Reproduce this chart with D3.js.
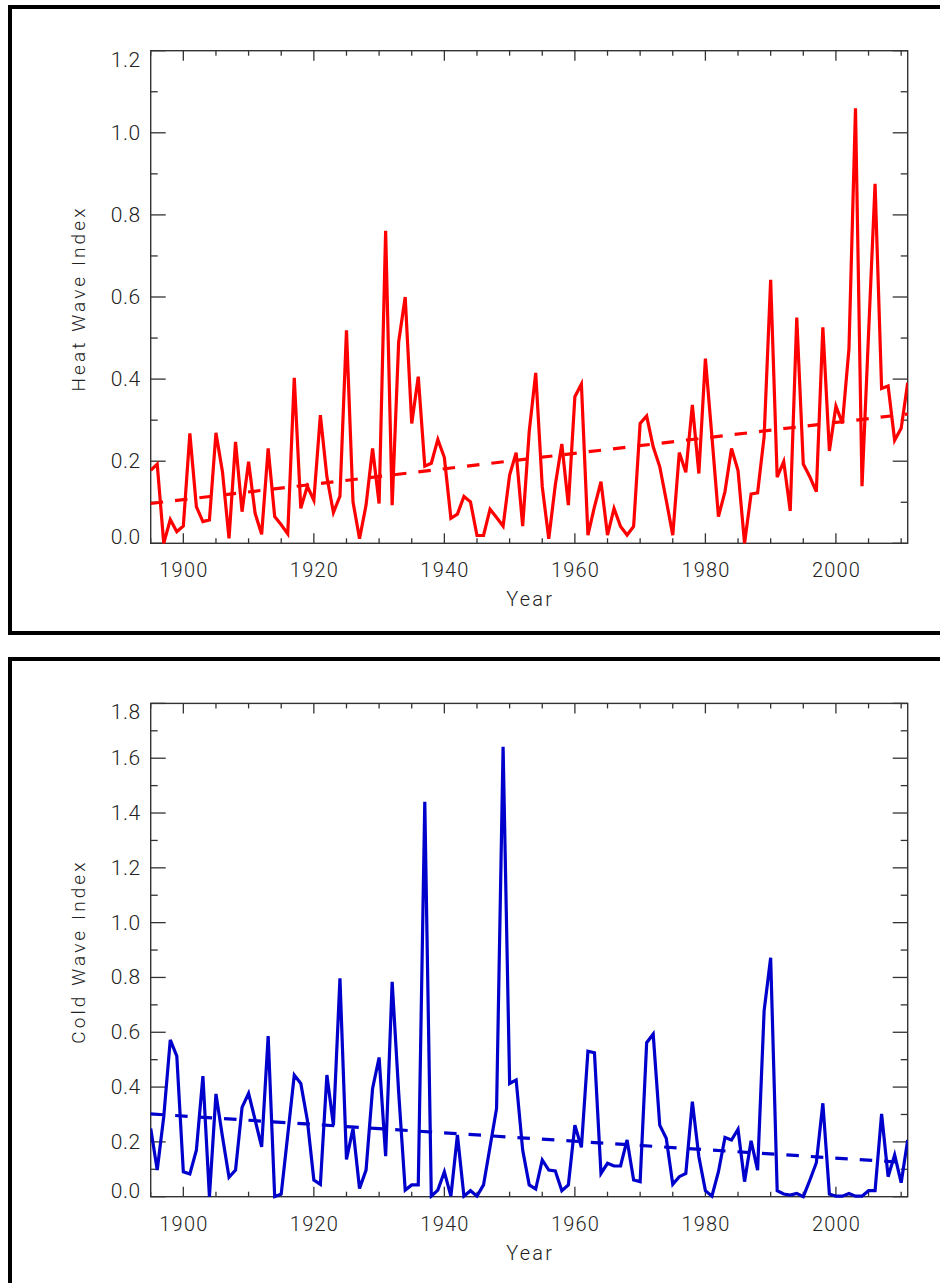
<!DOCTYPE html>
<html>
<head>
<meta charset="utf-8">
<script src="https://cdn.jsdelivr.net/npm/d3@7"></script>
<style>
  html, body { margin: 0; padding: 0; background: #fff; }
  svg { display: block; }
  text { font-family: Roboto, "DejaVu Sans", sans-serif; font-weight: 300; fill: #222; }
</style>
</head>
<body>
<svg id="chart" width="940" height="1283"></svg>
<script>
// Annual series, 1895-2011
const years = d3.range(1895, 2012);

const heatIndex = [
  0.178, 0.193, 0.000, 0.058, 0.028, 0.042, 0.268, 0.089, 0.053, 0.057,
  0.269, 0.174, 0.012, 0.247, 0.077, 0.199, 0.073, 0.022, 0.231, 0.065,
  0.045, 0.023, 0.403, 0.085, 0.139, 0.105, 0.312, 0.162, 0.075, 0.115,
  0.519, 0.101, 0.011, 0.093, 0.231, 0.097, 0.761, 0.093, 0.491, 0.600,
  0.292, 0.406, 0.188, 0.195, 0.253, 0.209, 0.061, 0.071, 0.114, 0.101,
  0.019, 0.019, 0.083, 0.063, 0.042, 0.166, 0.221, 0.042, 0.272, 0.415,
  0.138, 0.011, 0.142, 0.242, 0.093, 0.357, 0.388, 0.020, 0.089, 0.150,
  0.020, 0.085, 0.041, 0.020, 0.041, 0.292, 0.310, 0.235, 0.187, 0.105,
  0.020, 0.221, 0.173, 0.337, 0.170, 0.450, 0.260, 0.065, 0.126, 0.231,
  0.177, 0.000, 0.120, 0.123, 0.260, 0.642, 0.161, 0.199, 0.079, 0.550,
  0.193, 0.162, 0.126, 0.526, 0.225, 0.334, 0.292, 0.474, 1.060, 0.139,
  0.510, 0.876, 0.377, 0.383, 0.251, 0.280, 0.391
];

const coldIndex = [
  0.249, 0.097, 0.292, 0.572, 0.513, 0.091, 0.083, 0.170, 0.440, 0.000,
  0.375, 0.219, 0.071, 0.097, 0.326, 0.377, 0.280, 0.182, 0.586, 0.000,
  0.010, 0.225, 0.444, 0.413, 0.280, 0.061, 0.045, 0.444, 0.261, 0.797,
  0.136, 0.249, 0.030, 0.097, 0.395, 0.508, 0.148, 0.784, 0.380, 0.024,
  0.043, 0.043, 1.441, 0.002, 0.024, 0.091, 0.002, 0.225, 0.002, 0.022,
  0.002, 0.043, 0.182, 0.322, 1.642, 0.413, 0.426, 0.170, 0.043, 0.028,
  0.134, 0.097, 0.094, 0.022, 0.043, 0.261, 0.180, 0.531, 0.525, 0.085,
  0.122, 0.112, 0.112, 0.207, 0.061, 0.055, 0.562, 0.593, 0.261, 0.213,
  0.045, 0.073, 0.085, 0.347, 0.146, 0.022, 0.002, 0.091, 0.216, 0.207,
  0.246, 0.055, 0.204, 0.097, 0.679, 0.872, 0.022, 0.010, 0.006, 0.012,
  0.000, 0.060, 0.124, 0.341, 0.010, 0.002, 0.002, 0.012, 0.002, 0.002,
  0.022, 0.022, 0.302, 0.073, 0.152, 0.051, 0.207
];

// Linear trend end points (value at first and last year)
const trendYears = [1895, 2011];
const heatTrend = [0.097, 0.315];
const coldTrend = [0.302, 0.124];

// Axis ticks
const xMajorTicks = [1900, 1920, 1940, 1960, 1980, 2000];
const heatYTicks = [0.0, 0.2, 0.4, 0.6, 0.8, 1.0, 1.2];
const coldYTicks = [0.0, 0.2, 0.4, 0.6, 0.8, 1.0, 1.2, 1.4, 1.6, 1.8];

const svg = d3.select("#chart");

function drawPanel(cfg) {
  // outer frame
  svg.append("rect")
    .attr("x", cfg.frame.x).attr("y", cfg.frame.y)
    .attr("width", cfg.frame.w).attr("height", cfg.frame.h)
    .attr("fill", "none").attr("stroke", "#000").attr("stroke-width", 4);

  const p = cfg.plot;
  const x = d3.scaleLinear().domain([1895, 2011]).range([p.left, p.right]);
  const y = d3.scaleLinear().domain([0, cfg.yMax]).range([p.bottom, p.top]);

  const g = svg.append("g");
  const axisColor = "#333";

  // minor/major ticks on all four sides
  const xMinor = d3.range(1895, 2012, 5).filter(v => !xMajorTicks.includes(v));
  const yMinor = d3.range(1, Math.round(cfg.yMax * 10), 2).map(v => v / 10);

  function tickLines(vals, len, axis) {
    vals.forEach(v => {
      if (axis === "x") {
        const xx = x(v);
        g.append("line").attr("x1", xx).attr("x2", xx).attr("y1", p.bottom).attr("y2", p.bottom - len)
          .attr("stroke", axisColor).attr("stroke-width", 1.3);
        g.append("line").attr("x1", xx).attr("x2", xx).attr("y1", p.top).attr("y2", p.top + len)
          .attr("stroke", axisColor).attr("stroke-width", 1.3);
      } else {
        const yy = y(v);
        g.append("line").attr("x1", p.left).attr("x2", p.left + len).attr("y1", yy).attr("y2", yy)
          .attr("stroke", axisColor).attr("stroke-width", 1.3);
        g.append("line").attr("x1", p.right).attr("x2", p.right - len).attr("y1", yy).attr("y2", yy)
          .attr("stroke", axisColor).attr("stroke-width", 1.3);
      }
    });
  }
  tickLines(xMajorTicks, 10, "x");
  tickLines(xMinor, 5, "x");
  tickLines(cfg.yTicks, 15, "y");
  tickLines(yMinor, 7, "y");

  g.append("rect")
    .attr("x", p.left).attr("y", p.top)
    .attr("width", p.right - p.left).attr("height", p.bottom - p.top)
    .attr("fill", "none").attr("stroke", axisColor).attr("stroke-width", 1.4);

  // y tick labels, kept inside the plot height at both ends
  cfg.yTicks.forEach(v => {
    const yy = Math.min(Math.max(y(v), p.top + 9), p.bottom - 6);
    g.append("text")
      .attr("x", p.left - 10).attr("y", yy)
      .attr("text-anchor", "end").attr("dominant-baseline", "central")
      .attr("font-size", 21).attr("letter-spacing", 0.5)
      .text(v.toFixed(1));
  });

  // x tick labels
  xMajorTicks.forEach(v => {
    g.append("text")
      .attr("x", x(v) + 0.6).attr("y", p.bottom + 27)
      .attr("text-anchor", "middle").attr("dominant-baseline", "central")
      .attr("font-size", 20).attr("letter-spacing", 1.2)
      .text(v);
  });

  // axis titles
  g.append("text")
    .attr("x", (p.left + p.right) / 2 + 1).attr("y", p.bottom + 56)
    .attr("text-anchor", "middle").attr("dominant-baseline", "central")
    .attr("font-size", 20).attr("letter-spacing", 2.2)
    .text("Year");

  g.append("text")
    .attr("transform", `translate(${cfg.titleX},${(p.top + p.bottom) / 2 + 1.5}) rotate(-90)`)
    .attr("text-anchor", "middle").attr("dominant-baseline", "central")
    .attr("font-size", 19).attr("letter-spacing", 3.1)
    .text(cfg.title);

  // clip to plot area
  const clipId = "clip-" + cfg.id;
  svg.append("clipPath").attr("id", clipId)
    .append("rect").attr("x", p.left).attr("y", p.top - 2)
    .attr("width", p.right - p.left).attr("height", p.bottom - p.top + 4);

  const line = d3.line().x((d, i) => x(years[i])).y(d => y(d));
  svg.append("path")
    .datum(cfg.values)
    .attr("clip-path", `url(#${clipId})`)
    .attr("d", line)
    .attr("fill", "none").attr("stroke", cfg.color)
    .attr("stroke-width", 3.2).attr("stroke-linejoin", "miter");

  const tline = d3.line().x((d, i) => x(trendYears[i])).y(d => y(d));
  svg.append("path")
    .datum(cfg.trend)
    .attr("d", tline)
    .attr("fill", "none").attr("stroke", cfg.color)
    .attr("stroke-width", 3.2).attr("stroke-dasharray", "12.5,12");
}

drawPanel({
  id: "heat",
  frame: { x: 10, y: 7, w: 960, h: 626 },
  plot: { left: 150.7, right: 907.7, top: 50.7, bottom: 543.3 },
  yMax: 1.2,
  yTicks: heatYTicks,
  values: heatIndex,
  trend: heatTrend,
  color: "#ff0000",
  title: "Heat Wave Index",
  titleX: 78
});

drawPanel({
  id: "cold",
  frame: { x: 10, y: 659, w: 960, h: 660 },
  plot: { left: 150.7, right: 907.7, top: 703.4, bottom: 1196.7 },
  yMax: 1.8,
  yTicks: coldYTicks,
  values: coldIndex,
  trend: coldTrend,
  color: "#0000cc",
  title: "Cold Wave Index",
  titleX: 78
});
</script>
</body>
</html>
